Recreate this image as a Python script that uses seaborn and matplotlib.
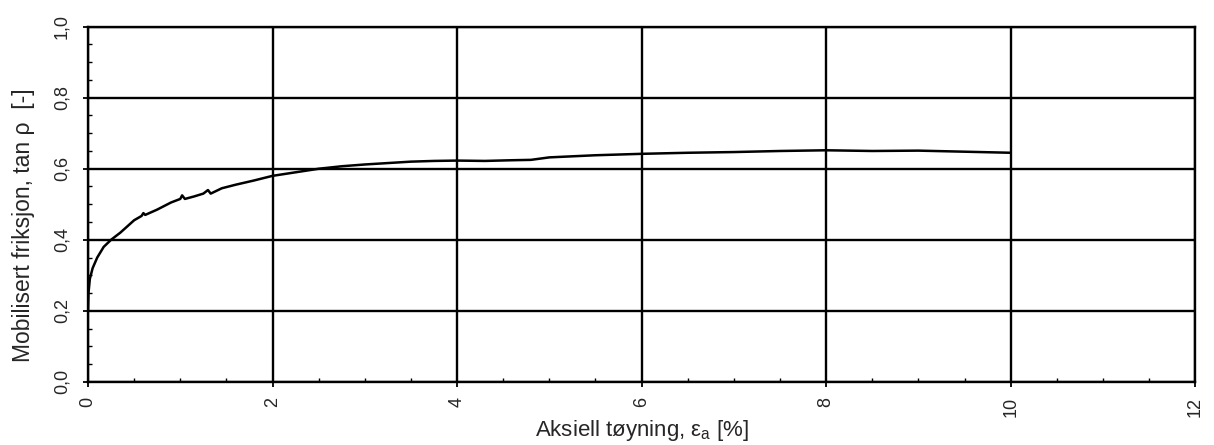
import matplotlib
matplotlib.use("Agg")
import matplotlib.pyplot as plt
from matplotlib.ticker import MultipleLocator, FixedLocator
import seaborn as sns
import pandas as pd

# Data
strain = [0.00, 0.005, 0.02, 0.05, 0.10, 0.17, 0.25, 0.35, 0.50, 0.58, 0.60, 0.62,
          0.75, 0.90, 1.00, 1.02, 1.05, 1.15, 1.25, 1.30, 1.33, 1.45, 1.60, 1.80,
          2.00, 2.25, 2.50, 2.75, 3.00, 3.25, 3.50, 3.75, 4.00, 4.30, 4.60, 4.80,
          5.00, 5.50, 6.00, 6.50, 7.00, 7.50, 8.00, 8.50, 9.00, 9.50, 10.00]
friction = [0.200, 0.250, 0.290, 0.320, 0.350, 0.380, 0.400, 0.420, 0.455, 0.467, 0.475, 0.470,
            0.485, 0.505, 0.515, 0.525, 0.515, 0.522, 0.530, 0.540, 0.530, 0.545, 0.555, 0.567,
            0.580, 0.590, 0.600, 0.607, 0.612, 0.616, 0.620, 0.622, 0.623, 0.622, 0.624, 0.625,
            0.632, 0.638, 0.642, 0.645, 0.647, 0.650, 0.652, 0.650, 0.651, 0.648, 0.645]
x_ticks = [0, 2, 4, 6, 8, 10, 12]
y_ticks = [0.0, 0.2, 0.4, 0.6, 0.8, 1.0]
y_tick_labels = ["0,0", "0,2", "0,4", "0,6", "0,8", "1,0"]

sns.set_theme(style="white")
plt.rcParams["font.family"] = ["Liberation Sans", "DejaVu Sans"]
plt.rcParams["mathtext.fontset"] = "custom"
plt.rcParams["mathtext.rm"] = "Liberation Sans"

fig = plt.figure(figsize=(12.14, 4.45), dpi=100)
ax = fig.add_axes([0.0725, 0.142, 0.912, 0.798])

df = pd.DataFrame({"strain": strain, "friction": friction})
sns.lineplot(data=df, x="strain", y="friction", ax=ax, color="black",
             linewidth=1.8, estimator=None, sort=False, zorder=3)

ax.set_xlim(0, 12)
ax.set_ylim(0, 1.0)
ax.xaxis.set_major_locator(FixedLocator(x_ticks))
ax.yaxis.set_major_locator(FixedLocator(y_ticks))
ax.set_xticklabels([str(t) for t in x_ticks], rotation=90, fontsize=13)
ax.set_yticklabels(y_tick_labels, rotation=90, va="center", fontsize=13)
ax.xaxis.set_minor_locator(MultipleLocator(0.5))
ax.yaxis.set_minor_locator(MultipleLocator(0.05))
ax.tick_params(axis="x", which="major", direction="out", length=3.6, width=1.3,
               color="black", pad=7, bottom=True)
ax.tick_params(axis="y", which="major", direction="out", length=3.6, width=1.3,
               color="black", pad=9, left=True)
ax.tick_params(axis="both", which="minor", direction="in", length=3, width=1.0,
               color="black", bottom=True, left=True)

ax.grid(True, which="major", color="black", linewidth=1.7, zorder=1)
for s in ax.spines.values():
    s.set_color("black")
    s.set_linewidth(1.7)

ax.set_xlabel("Aksiell tøyning, ε$_{\\mathrm{a}}$ [%]", fontsize=16, labelpad=1)
ax.set_ylabel("Mobilisert friksjon, tan ρ  [-]", fontsize=16.5, labelpad=13, y=0.44)

fig.savefig("out.png", dpi=100)
